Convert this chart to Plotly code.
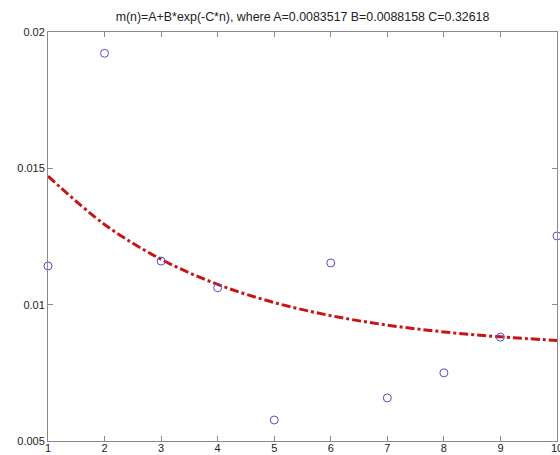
import plotly.graph_objects as go

n_values = [1, 2, 3, 4, 5, 6, 7, 8, 9, 10]
m_observed = [0.01142, 0.01922, 0.01160, 0.01062, 0.00577, 0.01153, 0.00658, 0.00750, 0.00881, 0.01252]
m_fitted = [0.014714, 0.012943, 0.011665, 0.010743, 0.010077, 0.009597, 0.009250, 0.009000, 0.008820, 0.008690]
x_ticks = [1, 2, 3, 4, 5, 6, 7, 8, 9, 10]
y_ticks = [0.005, 0.01, 0.015, 0.02]
y_tick_labels = ["0.005", "0.01", "0.015", "0.02"]
title_text = "m(n)=A+B*exp(-C*n), where A=0.0083517 B=0.0088158 C=0.32618"

fig = go.Figure()
fig.add_trace(go.Scatter(
    x=n_values, y=m_fitted, mode="lines",
    line=dict(color="#c81414", width=3, dash="9px,3px,3px,3px", shape="spline"),
    hoverinfo="skip", showlegend=False,
))
fig.add_trace(go.Scatter(
    x=n_values, y=m_observed, mode="markers",
    marker=dict(symbol="circle-open", size=8, color="#5050c0", line=dict(width=1, color="#5050c0")),
    cliponaxis=False, showlegend=False,
))

axis_common = dict(
    showgrid=False, zeroline=False, showline=True, linecolor="#8a8a8a", linewidth=1,
    mirror="ticks", ticks="inside", ticklen=5, tickcolor="#8a8a8a",
    ticklabeloverflow="allow", automargin=False,
    tickfont=dict(family="Liberation Sans, Arial, sans-serif", size=11, color="#222222"),
)

fig.update_layout(
    width=560, height=455,
    margin=dict(l=48, r=3, t=32, b=14, autoexpand=False),
    paper_bgcolor="white", plot_bgcolor="white",
    title=dict(text=title_text, x=0.5, xanchor="center", xref="paper", y=1 - 16.5 / 455, yref="container",
               yanchor="middle",
               font=dict(family="Liberation Sans, Arial, sans-serif", size=12.4, color="#222222")),
    xaxis=dict(range=[1, 10], tickvals=x_ticks, ticktext=[str(v) for v in x_ticks],
               ticklabelstandoff=-3, **axis_common),
    yaxis=dict(range=[0.005, 0.02], tickvals=y_ticks, ticktext=y_tick_labels, **axis_common),
)

fig.write_html("out.html")
